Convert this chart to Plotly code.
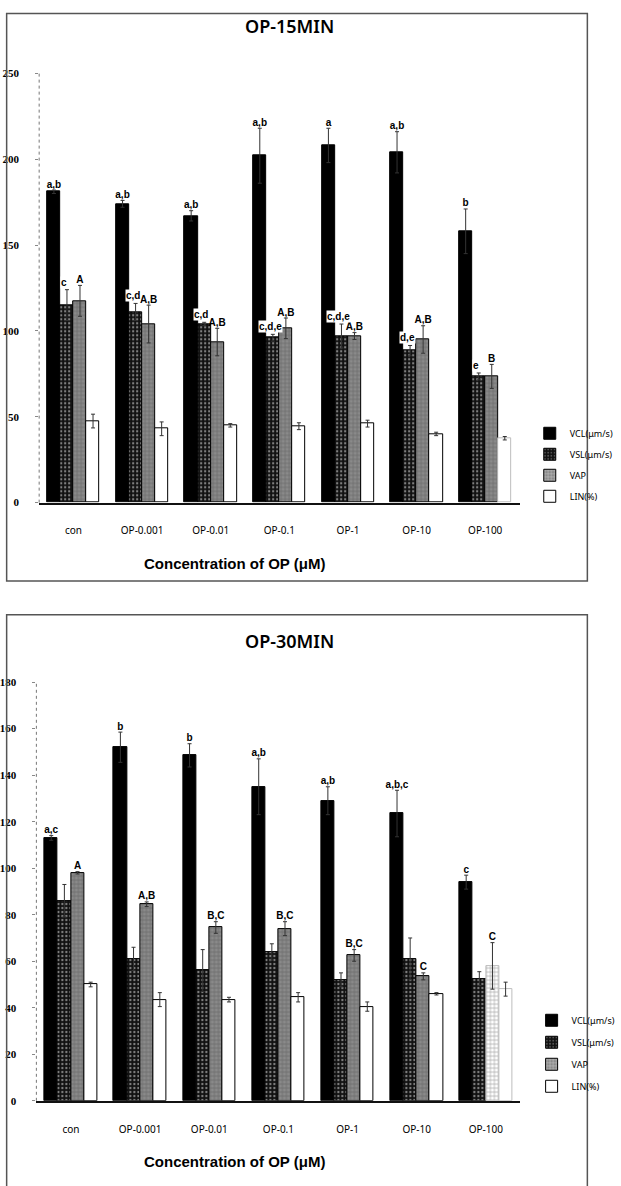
import plotly.graph_objects as go

# ---- data -------------------------------------------------------------
categories = ["con", "OP-0.001", "OP-0.01", "OP-0.1", "OP-1", "OP-10", "OP-100"]
series_names = ["VCL(μm/s)", "VSL(μm/s)", "VAP", "LIN(%)"]

# 15 min exposure
vcl_15 = [181, 174, 167, 202, 208, 204, 158]
vcl_15_err = [1, 2, 3, 16, 10, 12, 13]
vsl_15 = [115, 111, 104, 96, 97, 88.5, 73.5]
vsl_15_err = [9, 5, 1, 2, 7, 3, 2]
vap_15 = [117.5, 104, 93.5, 101.5, 97, 95, 73.5]
vap_15_err = [9, 11, 8, 6, 2, 8, 7]
lin_15 = [47.5, 43, 45, 44.5, 46, 40, 37.5]
lin_15_err = [4, 4, 1, 2, 2, 1, 1]

sig_vcl_15 = ["a,b", "a,b", "a,b", "a,b", "a", "a,b", "b"]
sig_vsl_15 = ["c", "c,d", "c,d", "c,d,e", "c,d,e", "d,e", "e"]
sig_vap_15 = ["A", "A,B", "A,B", "A,B", "A,B", "A,B", "B"]

# 30 min exposure
vcl_30 = [113, 152, 148.5, 135, 129, 123.5, 94]
vcl_30_err = [1, 6.5, 5, 12, 6, 10, 3]
vsl_30 = [86, 61, 56, 64, 52, 61, 52.5]
vsl_30_err = [7, 5, 9, 3.5, 3, 9, 3]
vap_30 = [98, 84.5, 74.5, 74, 62.5, 53.5, 58]
vap_30_err = [0.5, 1, 2.5, 3, 2.5, 1.5, 10]
lin_30 = [50, 43.5, 43.5, 44.5, 40.5, 46, 48]
lin_30_err = [1, 3, 1, 2, 2, 0.5, 3]

sig_vcl_30 = ["a,c", "b", "b", "a,b", "a,b", "a,b,c", "c"]
sig_vap_30 = ["A", "A,B", "B,C", "B,C", "B,C", "C", "C"]

# ---- page geometry ----------------------------------------------------
W, H = 621, 1186


def px_x(v):
    return v / W


def px_y(v):
    return 1 - v / H


BAR_W = 0.19
OFFSETS = [-0.38, -0.19, 0.0, 0.19]
xs = list(range(len(categories)))

styles = [
    dict(color="#000000", pattern=dict(shape="")),
    dict(color="#111111", pattern=dict(shape=".", fgcolor="#9a9a9a", bgcolor="#111111", size=4, solidity=0.25)),
    dict(color="#8a8a8a", pattern=dict(shape="+", fgcolor="#ffffff", bgcolor="#8a8a8a", size=4, solidity=0.3)),
    dict(color="#ffffff", pattern=dict(shape="")),
]
# horizontal nudge (in category units) of the letter labels for each series
label_shift = {0: 0.0, 1: -0.04, 2: 0.0}
label_font = dict(family="Liberation Sans", size=10, color="#000000", weight="bold")

fig = go.Figure()


def add_panel(axis_suffix, legend_name, values, errors, sigs, faint):
    xa = "x" + axis_suffix
    ya = "y" + axis_suffix
    for k in range(4):
        st = styles[k]
        line_cols = ["#000000"] * len(categories)
        fill_cols = [st["color"]] * len(categories)
        for (s, i) in faint:
            if s == k:
                line_cols[i] = "#bdbdbd"
                fill_cols[i] = "#ffffff"
        pat = dict(st["pattern"])
        if pat.get("shape"):
            pat["bgcolor"] = fill_cols
        fig.add_trace(go.Bar(
            x=xs, y=values[k], xaxis=xa, yaxis=ya,
            name=series_names[k], legend=legend_name, legendgroup=legend_name + str(k),
            offset=OFFSETS[k], width=BAR_W,
            marker=dict(color=fill_cols, line=dict(color=line_cols, width=1), pattern=pat),
            error_y=dict(type="data", array=errors[k], color="#333333", thickness=1, width=2),
            showlegend=True,
        ))
    for k, labels in sigs.items():
        lx = [i + OFFSETS[k] + BAR_W / 2 + label_shift[k] for i in xs]
        ly = [v + e for v, e in zip(values[k], errors[k])]
        if k == 1:
            # letters that sit over the neighbouring dark bar get a white backing
            for x_, y_, t in zip(lx, ly, labels):
                fig.add_annotation(x=x_, y=y_, xref=xa, yref=ya, text=t, showarrow=False,
                                   xanchor="center", yanchor="bottom", yshift=1,
                                   bgcolor="white", borderpad=0, font=label_font)
        else:
            fig.add_trace(go.Scatter(
                x=lx, y=ly, xaxis=xa, yaxis=ya, mode="text", text=labels,
                textposition="top center", cliponaxis=False, showlegend=False,
                textfont=label_font, hoverinfo="skip",
            ))


add_panel("", "legend",
          [vcl_15, vsl_15, vap_15, lin_15],
          [vcl_15_err, vsl_15_err, vap_15_err, lin_15_err],
          {0: sig_vcl_15, 1: sig_vsl_15, 2: sig_vap_15},
          faint=[(3, 6)])
add_panel("2", "legend2",
          [vcl_30, vsl_30, vap_30, lin_30],
          [vcl_30_err, vsl_30_err, vap_30_err, lin_30_err],
          {0: sig_vcl_30, 2: sig_vap_30},
          faint=[(2, 6), (3, 6)])

tick_font = dict(family="Liberation Serif", size=11, color="#000000", weight="bold")
cat_font = dict(family="Noto Sans", size=10, color="#000000")

xaxis_common = dict(
    range=[-0.5, 6.5], tickmode="array", tickvals=xs, ticktext=categories,
    showline=True, linecolor="#111111", linewidth=1.5, ticks="", showgrid=False,
    zeroline=False, tickfont=cat_font, ticklabelstandoff=18, fixedrange=True,
)
yaxis_common = dict(
    showline=False, ticks="outside", ticklen=3, tickcolor="#888888",
    showgrid=False, zeroline=False, tickfont=tick_font, ticklabelstandoff=14,
    fixedrange=True,
)

legend_font = dict(family="Noto Sans", size=9, color="#000000")
fig.update_layout(
    width=W, height=H, margin=dict(l=0, r=0, t=0, b=0),
    paper_bgcolor="white", plot_bgcolor="white",
    barmode="overlay", bargap=0, showlegend=True,
    xaxis=dict(domain=[px_x(40), px_x(557)], anchor="y", **xaxis_common),
    yaxis=dict(domain=[px_y(501.7), px_y(68)], anchor="x", range=[0, 250], dtick=50, **yaxis_common),
    xaxis2=dict(domain=[px_x(37), px_x(558)], anchor="y2", **xaxis_common),
    yaxis2=dict(domain=[px_y(1106), px_y(683)], anchor="x2", range=[0, 180], dtick=20, **yaxis_common),
    legend=dict(x=px_x(568), y=px_y(417), xanchor="left", yanchor="top",
                font=legend_font, tracegroupgap=2, bgcolor="rgba(0,0,0,0)", itemwidth=30),
    legend2=dict(x=px_x(570), y=px_y(1010), xanchor="left", yanchor="top",
                 font=legend_font, tracegroupgap=3, bgcolor="rgba(0,0,0,0)", itemwidth=30),
)

# panel frames and dotted value axes
frame_line = dict(color="#555555", width=1.5)
fig.add_shape(type="rect", xref="paper", yref="paper",
              x0=px_x(5), x1=px_x(630), y0=px_y(581), y1=px_y(7.5), line=frame_line)
fig.add_shape(type="rect", xref="paper", yref="paper",
              x0=px_x(5), x1=px_x(630), y0=px_y(1195), y1=px_y(615), line=frame_line)
for xr, yr in (("x domain", "y domain"), ("x2 domain", "y2 domain")):
    fig.add_shape(type="line", xref=xr, yref=yr, x0=0, x1=0, y0=0, y1=1,
                  line=dict(color="#777777", width=1, dash="dot"))

title_font = dict(family="Noto Sans", size=18, color="#000000", weight=600)
axis_title_font = dict(family="Liberation Sans Narrow, Liberation Sans", size=15, color="#000000")
fig.add_annotation(text="OP-15MIN", xref="paper", yref="paper", x=px_x(309), y=px_y(20),
                   showarrow=False, font=title_font, xanchor="center", yanchor="middle")
fig.add_annotation(text="OP-30MIN", xref="paper", yref="paper", x=px_x(309), y=px_y(641),
                   showarrow=False, font=title_font, xanchor="center", yanchor="middle")
fig.add_annotation(text="<b>Concentration of OP (μM)</b>", xref="paper", yref="paper",
                   x=px_x(250), y=px_y(563), showarrow=False, font=axis_title_font,
                   xanchor="center", yanchor="middle")
fig.add_annotation(text="<b>Concentration of OP (μM)</b>", xref="paper", yref="paper",
                   x=px_x(250), y=px_y(1167), showarrow=False, font=axis_title_font,
                   xanchor="center", yanchor="middle")

fig.write_html("out.html")
